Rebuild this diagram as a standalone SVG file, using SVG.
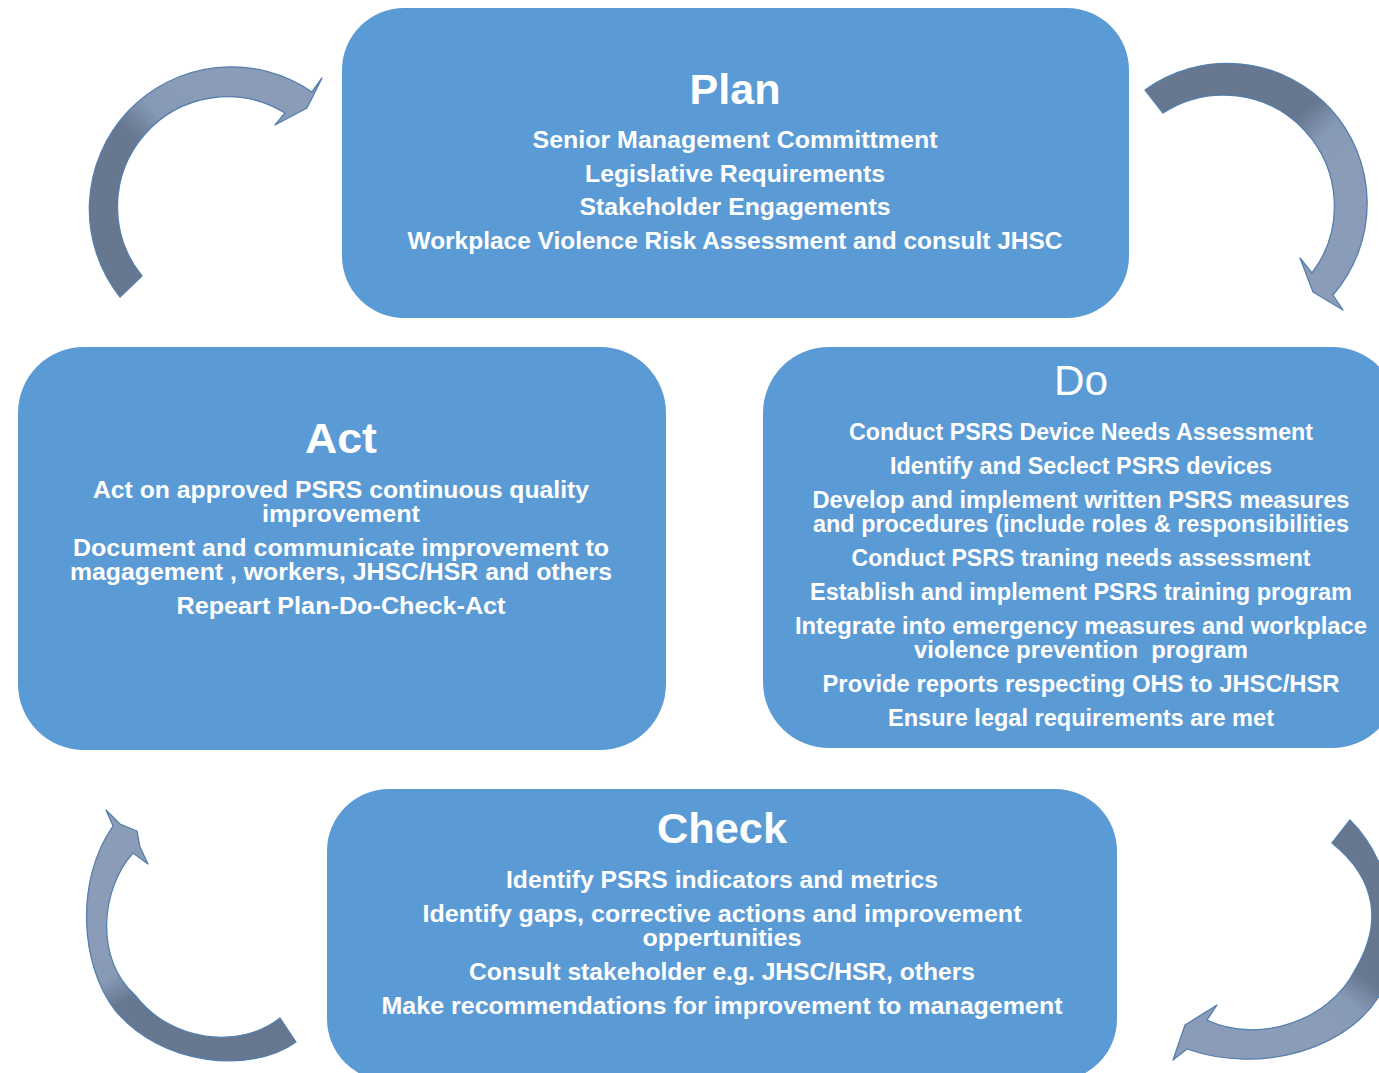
<svg xmlns="http://www.w3.org/2000/svg" width="1379" height="1073" viewBox="0 0 1379 1073">
<style>
.box{fill:#5b9bd5}
.t{font-family:"Liberation Sans",Arial,sans-serif;font-weight:bold;fill:#ffffff;text-anchor:middle}
.title{font-size:42px}
.body{font-size:23px}
.arrow{stroke:#557fad;stroke-width:1.3;stroke-linejoin:round}
</style>
<defs>
<linearGradient id="g1" gradientUnits="userSpaceOnUse" x1="110" y1="170" x2="190" y2="90">
<stop offset="0" stop-color="#66778f"/><stop offset="0.35" stop-color="#66778f"/><stop offset="0.65" stop-color="#8699b5"/><stop offset="1" stop-color="#8a9cb8"/>
</linearGradient>
<linearGradient id="g2" gradientUnits="userSpaceOnUse" x1="1280" y1="85" x2="1350" y2="160">
<stop offset="0" stop-color="#66778f"/><stop offset="0.35" stop-color="#66778f"/><stop offset="0.65" stop-color="#8699b5"/><stop offset="1" stop-color="#8a9cb8"/>
</linearGradient>
<linearGradient id="g3" gradientUnits="userSpaceOnUse" x1="140" y1="1030" x2="95" y2="950">
<stop offset="0" stop-color="#66778f"/><stop offset="0.35" stop-color="#66778f"/><stop offset="0.65" stop-color="#8699b5"/><stop offset="1" stop-color="#8a9cb8"/>
</linearGradient>
<linearGradient id="g4" gradientUnits="userSpaceOnUse" x1="1385" y1="950" x2="1330" y2="1030">
<stop offset="0" stop-color="#66778f"/><stop offset="0.35" stop-color="#66778f"/><stop offset="0.65" stop-color="#8699b5"/><stop offset="1" stop-color="#8a9cb8"/>
</linearGradient>
</defs>
<rect width="1379" height="1073" fill="#ffffff"/>

<g id="connectors">
<path id="arrow-act-plan" class="arrow" fill="url(#g1)" d="M120,297 A142,142 0 0 1 312,92 L322,78 L307,108 L275,125 L285,113 A110,110 0 0 0 142,276 Z"/>
<path id="arrow-plan-do" class="arrow" fill="url(#g2)" d="M1145,90 A140,140 0 0 1 1333,295 L1343,310 L1313,292 L1300,258 L1312,273 A111,111 0 0 0 1163,113 Z"/>
<path id="arrow-check-act" class="arrow" fill="url(#g3)" d="M296,1042 C250,1075 160,1065 115,1010 C80,965 75,880 113,826 L106,810 L120,824 L137,831 L140,847 L148,864 L133,853 C100,890 95,960 135,995 C170,1042 240,1050 280,1018 Z"/>
<path id="arrow-do-check" class="arrow" fill="url(#g4)" d="M1350,820 C1390,860 1405,930 1385,985 C1355,1050 1260,1075 1187,1049 L1173,1060 L1185,1025 L1217,1005 L1207,1020 C1260,1045 1330,1020 1355,970 C1382,925 1378,880 1332,843 Z"/>
</g>

<g id="node-plan">
<rect class="box" x="342" y="8" width="787" height="310" rx="62" ry="62"/>
<text class="t title" x="735" y="104" textLength="91" lengthAdjust="spacingAndGlyphs">Plan</text>
<text class="t body" x="735" y="148" textLength="405" lengthAdjust="spacingAndGlyphs">Senior Management Committment</text>
<text class="t body" x="735" y="182" textLength="300" lengthAdjust="spacingAndGlyphs">Legislative Requirements</text>
<text class="t body" x="735" y="215" textLength="311" lengthAdjust="spacingAndGlyphs">Stakeholder Engagements</text>
<text class="t body" x="735" y="249" textLength="655" lengthAdjust="spacingAndGlyphs">Workplace Violence Risk Assessment and consult JHSC</text>
</g>

<g id="node-do">
<rect class="box" x="763" y="347" width="635" height="401" rx="66" ry="66"/>
<text class="t title" x="1081" y="395" style="font-weight:normal" textLength="54" lengthAdjust="spacingAndGlyphs">Do</text>
<text class="t body" x="1081" y="440" textLength="464" lengthAdjust="spacingAndGlyphs">Conduct PSRS Device Needs Assessment</text>
<text class="t body" x="1081" y="474" textLength="382" lengthAdjust="spacingAndGlyphs">Identify and Seclect PSRS devices</text>
<text class="t body" x="1081" y="508" textLength="537" lengthAdjust="spacingAndGlyphs">Develop and implement written PSRS measures</text>
<text class="t body" x="1081" y="532" textLength="536" lengthAdjust="spacingAndGlyphs">and procedures (include roles &amp; responsibilities</text>
<text class="t body" x="1081" y="566" textLength="459" lengthAdjust="spacingAndGlyphs">Conduct PSRS traning needs assessment</text>
<text class="t body" x="1081" y="600" textLength="542" lengthAdjust="spacingAndGlyphs">Establish and implement PSRS training program</text>
<text class="t body" x="1081" y="634" textLength="572" lengthAdjust="spacingAndGlyphs">Integrate into emergency measures and workplace</text>
<text class="t body" x="1081" y="658" xml:space="preserve" textLength="334" lengthAdjust="spacingAndGlyphs">violence prevention  program</text>
<text class="t body" x="1081" y="692" textLength="517" lengthAdjust="spacingAndGlyphs">Provide reports respecting OHS to JHSC/HSR</text>
<text class="t body" x="1081" y="726" textLength="386" lengthAdjust="spacingAndGlyphs">Ensure legal requirements are met</text>
</g>

<g id="node-act">
<rect class="box" x="18" y="347" width="648" height="403" rx="66" ry="66"/>
<text class="t title" x="341" y="453" textLength="72" lengthAdjust="spacingAndGlyphs">Act</text>
<text class="t body" x="341" y="498" textLength="496" lengthAdjust="spacingAndGlyphs">Act on approved PSRS continuous quality</text>
<text class="t body" x="341" y="522" textLength="158" lengthAdjust="spacingAndGlyphs">improvement</text>
<text class="t body" x="341" y="556" textLength="536" lengthAdjust="spacingAndGlyphs">Document and communicate improvement to</text>
<text class="t body" x="341" y="580" textLength="542" lengthAdjust="spacingAndGlyphs">magagement , workers, JHSC/HSR and others</text>
<text class="t body" x="341" y="614" textLength="329" lengthAdjust="spacingAndGlyphs">Repeart Plan-Do-Check-Act</text>
</g>

<g id="node-check">
<rect class="box" x="327" y="789" width="790" height="292" rx="62" ry="62"/>
<text class="t title" x="722" y="843" textLength="130" lengthAdjust="spacingAndGlyphs">Check</text>
<text class="t body" x="722" y="888" textLength="432" lengthAdjust="spacingAndGlyphs">Identify PSRS indicators and metrics</text>
<text class="t body" x="722" y="922" textLength="599" lengthAdjust="spacingAndGlyphs">Identify gaps, corrective actions and improvement</text>
<text class="t body" x="722" y="946" textLength="159" lengthAdjust="spacingAndGlyphs">oppertunities</text>
<text class="t body" x="722" y="980" textLength="506" lengthAdjust="spacingAndGlyphs">Consult stakeholder e.g. JHSC/HSR, others</text>
<text class="t body" x="722" y="1014" textLength="681" lengthAdjust="spacingAndGlyphs">Make recommendations for improvement to management</text>
</g>
</svg>
